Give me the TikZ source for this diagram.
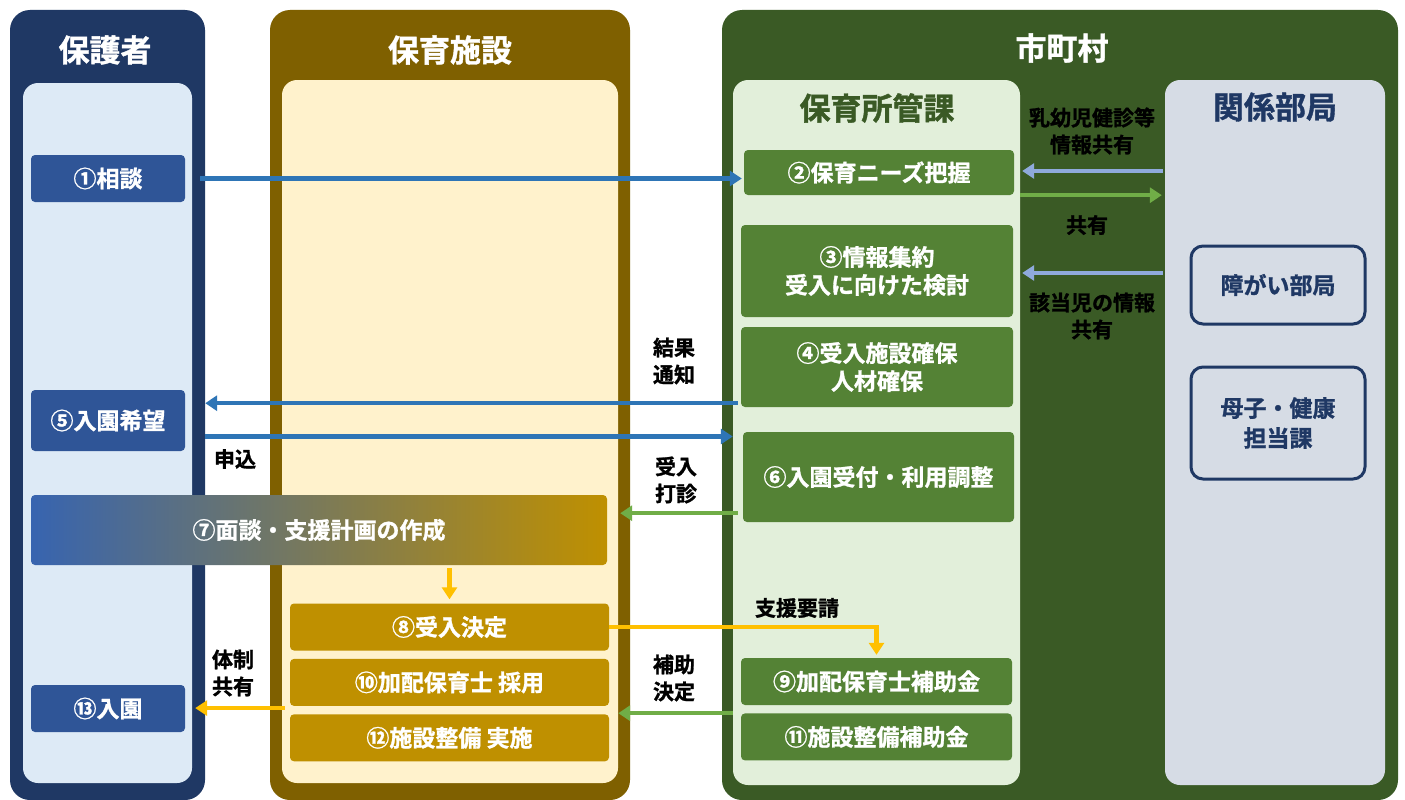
\documentclass[tikz,border=0pt]{standalone}
\usepackage{fontspec}
\setmainfont{Noto Sans CJK JP}[BoldFont={Noto Sans CJK JP Bold},BoldFeatures={FakeBold=1.2}]
\usepackage{tikz}
\usetikzlibrary{arrows.meta,positioning}

\definecolor{navy}{HTML}{1F3864}
\definecolor{paleblue}{HTML}{DDEAF6}
\definecolor{boxblue}{HTML}{2F5597}
\definecolor{gradblue}{HTML}{3764B0}
\definecolor{brown}{HTML}{7F6000}
\definecolor{cream}{HTML}{FFF2CC}
\definecolor{gold}{HTML}{BF9000}
\definecolor{dkgreen}{HTML}{3A5A25}
\definecolor{palegreen}{HTML}{E2EFDA}
\definecolor{midgreen}{HTML}{548235}
\definecolor{paleslate}{HTML}{D6DCE5}
\definecolor{arrblue}{HTML}{2E75B6}
\definecolor{arrlight}{HTML}{8FAADC}
\definecolor{arrgreen}{HTML}{70AD47}
\definecolor{arryellow}{HTML}{FFC000}

\begin{document}
\begin{tikzpicture}[
    x=1pt,y=-1pt,
    >={Triangle[length=12pt,width=15pt]},
    panel/.style={rounded corners=20pt,inner sep=0pt},
    inner/.style={rounded corners=15pt,inner sep=0pt},
    title/.style={text=white,font=\bfseries\fontsize{31}{36}\selectfont},
    basic/.style={rounded corners=4pt,text=white,align=center,inner sep=0pt,
        font=\bfseries\fontsize{23}{28}\selectfont},
    pbox/.style={basic,fill=boxblue,minimum width=154pt},
    fbox/.style={basic,fill=gold,minimum width=319pt,minimum height=47pt},
    cbox/.style={basic,fill=midgreen,minimum width=272pt},
    dept/.style={draw=navy,line width=3pt,rounded corners=12pt,fill=paleslate,
        minimum width=174pt,align=center,text=navy,
        font=\bfseries\fontsize{23}{30}\selectfont},
    lbl/.style={align=center,font=\bfseries\fontsize{21}{27}\selectfont},
    arr/.style={line width=4.5pt},
]
    \useasboundingbox[fill=white] (0,0) rectangle (1405,800);

    % columns
    \node[panel,fill=navy,minimum width=195pt,minimum height=790pt] (hogo) at (107.5,405) {};
    \node[inner,fill=paleblue,minimum width=169pt,minimum height=700pt] (hogoin) at (107.5,433) {};
    \node[title] at (105,50) {保護者};

    \node[panel,fill=brown,minimum width=360pt,minimum height=790pt] (shisetsu) at (450,405) {};
    \node[inner,fill=cream,minimum width=336pt,minimum height=703pt] (shisetsuin) at (450,431.5) {};
    \node[title] at (450,50) {保育施設};

    \node[panel,fill=dkgreen,minimum width=676pt,minimum height=790pt] (city) at (1060,405) {};
    \node[title] at (1062,48) {市町村};
    \node[inner,fill=palegreen,minimum width=287pt,minimum height=705pt] (kanka) at (876.5,432.5) {};
    \node[title,text=dkgreen] at (877,108) {保育所管課};
    \node[inner,fill=paleslate,minimum width=220pt,minimum height=705pt] (kankei) at (1275,432.5) {};
    \node[title,text=navy] at (1275,107) {関係部局};

    % steps
    \node[pbox,minimum height=47pt] (s1) at (108,178.5) {①相談};
    \node[pbox,minimum height=61pt] (s5) at (108,420.5) {⑤入園希望};
    \node[basic,left color=gradblue,right color=gold,
        minimum width=576pt,minimum height=70pt] (s7) at (319,530) {⑦面談・支援計画の作成};
    \node[pbox,minimum height=47pt] (s13) at (108,708.5) {⑬入園};

    \node[fbox] (s8) at (449.5,627) {⑧受入決定};
    \node[fbox,below=8pt of s8] (s10) {⑩加配保育士 採用};
    \node[fbox,below=8pt of s10] (s12) {⑫施設整備 実施};

    \node[cbox,minimum width=270pt,minimum height=45pt] (s2) at (879,172.5) {②保育ニーズ把握};
    \node[cbox,minimum height=92pt] (s3) at (877,271) {③情報集約\\受入に向けた検討};
    \node[cbox,minimum height=80pt] (s4) at (877,367) {④受入施設確保\\人材確保};
    \node[cbox,minimum width=271pt,minimum height=90pt] (s6) at (878.5,477) {⑥入園受付・利用調整};
    \node[cbox,minimum width=271pt,minimum height=47pt] (s9) at (876.5,681.5) {⑨加配保育士補助金};
    \node[cbox,minimum width=271pt,minimum height=47pt,below=8pt of s9] (s11) {⑪施設整備補助金};

    \node[dept,minimum height=78pt] (d1) at (1278,285) {障がい部局};
    \node[dept,minimum height=112pt] (d2) at (1278,423) {母子・健康\\担当課};

    % connectors
    \draw[->,arr,arrblue,shorten <=15pt,shorten >=2pt] (s1.east) -- (s1.east -| s2.west);
    \draw[->,arr,arrblue,shorten <=3pt,shorten >=20pt] ([yshift=4pt]s4.south west) -- ([yshift=4pt]s4.south west -| s5.east);
    \draw[->,arr,arrblue,shorten <=20pt,shorten >=10pt] ([yshift=-16pt]s5.east) -- ([yshift=-16pt]s5.east -| s6.west);
    \draw[->,arr,arrgreen,shorten <=5pt,shorten >=13pt] ([yshift=9pt]s6.south west) -- ([yshift=9pt]s6.south west -| s7.east);
    \draw[->,arr,arryellow,shorten <=3pt,shorten >=4pt] (s7.south -| s8.north) -- (s8.north);
    \draw[->,arr,arryellow,shorten >=3pt] (s8.east) -| (s9.north);
    \draw[->,arr,arrgreen,shorten <=8pt,shorten >=9pt] (s11.north west) -- (s11.north west -| s12.east);
    \draw[->,arr,arryellow,shorten <=5pt,shorten >=10pt] ([yshift=-2pt]s10.south west) -- ([yshift=-2pt]s10.south west -| s13.east);
    \draw[->,arr,arrlight,shorten <=2pt,shorten >=8pt] ([yshift=1.5pt]s2.east -| kankei.west) -- ([yshift=1.5pt]s2.east);
    \draw[->,arr,arrgreen,shorten <=6pt,shorten >=3pt] (s2.south east) -- (s2.south east -| kankei.west);
    \draw[->,arr,arrlight,shorten <=2pt,shorten >=9pt] ([yshift=-2pt]s3.east -| kankei.west) -- ([yshift=-2pt]s3.east);

    % labels
    \node[lbl] (l1) at (1092,131) {乳幼児健診等\\情報共有};
    \node[lbl] (l2) at (1087,225) {共有};
    \node[lbl] (l3) at (1092,316) {該当児の情報\\共有};
    \node[lbl] (l4) at (674,361) {結果\\通知};
    \node[lbl] (l5) at (235,459) {申込};
    \node[lbl] (l6) at (676,480) {受入\\打診};
    \node[lbl] (l7) at (797,608) {支援要請};
    \node[lbl] (l8) at (674,678) {補助\\決定};
    \node[lbl] (l9) at (233,673) {体制\\共有};
\end{tikzpicture}
\end{document}
